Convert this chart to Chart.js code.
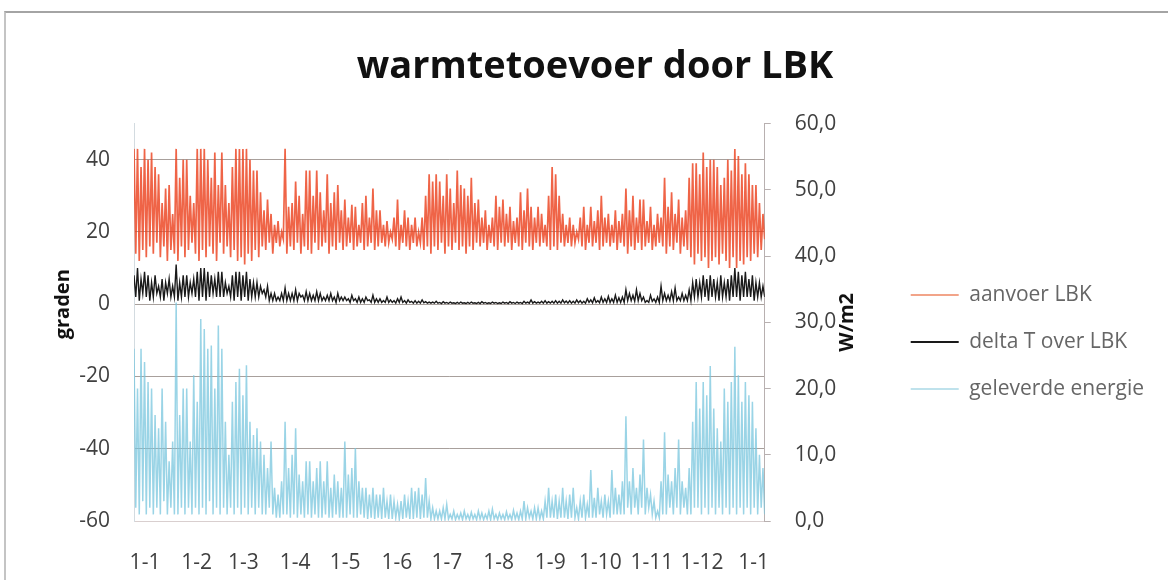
<!DOCTYPE html>
<html>
<head>
<meta charset="utf-8">
<script src="https://cdn.jsdelivr.net/npm/chart.js@4.4.1/dist/chart.umd.min.js"></script>
<style>
  html, body { margin: 0; padding: 0; background: #fff; }
  .wrap { position: relative; width: 1168px; height: 580px; overflow: hidden; }
  /* grijze rand van de uitsnede */
  .frame { position: absolute; left: 4px; top: 11px; right: 0; bottom: 0;
           border-top: 2px solid #a4a4a4; border-left: 2px solid #c4c4c4; pointer-events: none; }
  canvas { position: absolute; left: 0; top: 0; }
</style>
</head>
<body>
<div class="wrap">
  <canvas id="chart" width="1168" height="580"></canvas>
  <div class="frame"></div>
</div>
<script>
// titels en labels
const chartTitle = 'warmtetoevoer door LBK';
const leftTitle = 'graden';
const rightTitle = 'W/m2';
const seriesNames = ['aanvoer LBK', 'delta T over LBK', 'geleverde energie'];
const legendColors = ['#f2a489', '#1a1a1a', '#bfe2ec'];

// x-as: dag van het jaar, labels op de eerste van elke maand
const monthDays = [0, 31, 59, 90, 120, 151, 181, 212, 243, 273, 304, 334, 365];
const monthLabels = ['1-1', '1-2', '1-3', '1-4', '1-5', '1-6', '1-7', '1-8', '1-9', '1-10', '1-11', '1-12', '1-1'];
const dayStart = -6.6;
const dayEnd = 371.6;

// linker as (graden)
const leftTicks = [-60, -40, -20, 0, 20, 40];

// aanvoer LBK (graden), afwisselend pieken en dalen, ca. 10 dagen per regel
const aanvoer = [
  43,14, 43,12, 38,15, 43,13, 40,16,
  42,14, 38,17, 36,13, 28,16, 32,12,
  33,15, 25,14, 43,12, 35,16, 40,13,
  40,15, 30,17, 28,14, 43,12, 43,15,
  43,13, 40,16, 35,14, 42,12, 33,17,
  42,14, 33,16, 28,13, 38,15, 43,12,
  43,13, 43,11, 43,14, 40,12, 37,15,
  37,13, 31,16, 26,15, 29,17, 25,14,
  22,17, 23,16, 20,18, 43,14, 27,16,
  28,15, 34,17, 30,14, 25,16, 37,15,
  37,14, 30,17, 37,15, 31,16, 26,17,
  36,14, 28,16, 31,15, 33,17, 26,15,
  29,16, 24,17, 27.5,15, 27,16, 22,17,
  28,15, 30,16, 24,17, 32,15, 26,16,
  26,17, 22,16, 23,17, 20,18, 24,16,
  29,15, 22,17, 26,16, 24,15, 22,17,
  24,16, 20,17, 24,15, 30,16, 36,14,
  34,16, 36,15, 34,17, 30,14, 36,16,
  32,15, 28,17, 37,15, 33,16, 32,14,
  30,16, 35,15, 28,17, 29,16, 24,17,
  26,15, 22,17, 24,16, 30,15, 27,17,
  29,16, 25,17, 27,15, 23,17, 24,16,
  31,15, 26,17, 32,16, 27,15, 24,17,
  27,16, 25,17, 22,16, 30,15, 38,16,
  36,15, 30,17, 25,16, 22,17, 24,16,
  22,17, 20,18, 24,16, 27,15, 22,17,
  27,16, 23,17, 26,15, 30,16, 24,17,
  25,16, 22,17, 26,15, 23,17, 25,16,
  32,14, 26,16, 30,15, 24,17, 29,15,
  29,16, 23,17, 27,15, 22,16, 25,17,
  24,16, 35,14, 27,16, 31,15, 25,17,
  29,14, 24,16, 26,15, 35,13, 39,11,
  39,14, 36,12, 42,13, 38,10, 40,12,
  40,13, 38,11, 33,14, 35,12, 40,10,
  37,13, 43,10, 41,12, 36,11, 39,13,
  36,12, 33,14, 33,13, 28,15, 25,18
];

// delta T over LBK (graden)
const deltaT = [
  8,2, 10,1, 7,3, 9,2, 8,1,
  6,2, 8,3, 5,2, 7,1, 6,3,
  7,2, 5,2, 11,1, 6,2, 8,2,
  8,2, 6,3, 7,2, 9,1, 10,2,
  10,1, 9,2, 8,3, 7,2, 9,2,
  9,2, 6,3, 5,2, 8,1, 9,2,
  9,1, 8,2, 9,1, 7,2, 6,2,
  6,2, 5,3, 4,2, 5,1, 3,1,
  3,1, 2,1, 3,1, 4.5,1, 3,1,
  3,1, 4,1, 3,2, 2.5,1, 3.5,1,
  3,1, 2.5,1, 3.5,1, 3,1, 2,1,
  2.5,1, 3,1, 2,0.5, 3,1, 2,1,
  2,1, 1.5,0.5, 2.5,1, 1.5,0.5, 2,0.5,
  1.5,0.5, 2,1, 1.2,0.5, 2.5,0.5, 1.5,0.5,
  1.5,0.5, 1,0.5, 2,0.5, 1.2,0.5, 1,0.3,
  1.5,0.5, 2,0.5, 1,0.3, 1.2,0.5, 0.8,0.3,
  1,0.3, 0.8,0.3, 1.2,0.4, 0.7,0.3, 0.6,0.3,
  0.6,0.3, 0.8,0.3, 0.5,0.2, 0.7,0.3, 0.5,0.2,
  0.6,0.3, 0.4,0.2, 0.5,0.2, 0.6,0.3, 0.4,0.2,
  0.5,0.2, 0.6,0.3, 0.4,0.2, 0.5,0.2, 0.7,0.3,
  0.5,0.2, 0.4,0.2, 0.6,0.3, 0.5,0.2, 0.4,0.2,
  0.6,0.3, 0.5,0.2, 0.7,0.3, 0.5,0.2, 0.6,0.3,
  0.5,0.2, 0.8,0.3, 0.6,0.3, 1.2,0.3, 0.7,0.3,
  0.6,0.3, 0.8,0.3, 1,0.3, 0.7,0.3, 0.8,0.3,
  1,0.3, 0.8,0.3, 1.2,0.4, 0.9,0.3, 1,0.3,
  0.8,0.3, 1.2,0.4, 1,0.3, 0.8,0.3, 1.5,0.5,
  1.2,0.4, 1.8,0.5, 1,0.4, 2,0.5, 1.5,0.5,
  2.2,0.5, 1.5,0.5, 2.5,0.5, 1.8,0.5, 2,0.5,
  4,1, 3,1, 2.5,0.8, 4,1, 3,1,
  2,0.5, 1,0.5, 2.5,0.8, 1.5,0.5, 2,0.5,
  5,1, 3,1, 2.5,1, 3.5,1, 4.5,1,
  2,1, 3,1, 2.5,1, 4,1, 6,2,
  7,2, 6,2, 8,2, 7,1, 8,2,
  7,2, 6,1, 8,2, 6,2, 7,1,
  8,2, 10,2, 9,1, 8,2, 9,2,
  7,2, 8,1, 6,2, 6,2, 5,2
];

// geleverde energie (W/m2, rechter as)
const energie = [
  26,2, 20,1, 26,3, 24,1, 21,2,
  20,1, 16,2, 14,1, 20,3, 15,1,
  9,2, 12,1, 33,1, 16,2, 20,1,
  20,2, 12,1, 22,2, 18,1, 30.5,2,
  29,1, 26,3, 26.5,1, 20,2, 29.5,1,
  26,2, 15,1, 10,2, 18,1, 21,2,
  23,1, 19,2, 23.5,1, 15,2, 13,1,
  14,2, 12,1, 10,1, 8,2, 12,1,
  5,0.5, 4,0.5, 6,1, 15,1, 8,0.5,
  10,1, 14,0.5, 7,1, 6,0.5, 9,1,
  9,0.5, 6,1, 8,0.5, 9,0.5, 6,1,
  9,0.5, 5,0.5, 7,1, 6,0.5, 5,0.5,
  12,0.5, 7,1, 8,0.5, 11,0.5, 6,1,
  5,0.5, 5,0.3, 4,0.5, 5,0.3, 4,0.5,
  4,0.3, 5,0.5, 3,0.3, 4,0.3, 3,0.5,
  2.5,0.3, 3,0.3, 4,0.5, 3,0.3, 5,0.3,
  4.5,0.5, 5,0.3, 4,0.5, 6.5,0.5, 3,0.3,
  2,0.3, 1.5,0.3, 1.5,0.3, 2,0.3, 2.5,0.3,
  1,0.3, 1.5,0.2, 1,0.3, 1.2,0.2, 1.5,0.3,
  1,0.2, 1.3,0.3, 1,0.2, 1.5,0.3, 1.2,0.2,
  1,0.3, 1.5,0.2, 1.8,0.3, 1,0.2, 1.2,0.3,
  1,0.2, 1.4,0.3, 1,0.2, 1.6,0.3, 1.2,0.2,
  1.5,0.3, 3,0.3, 2,0.5, 1.5,0.3, 2,0.3,
  2,0.3, 1.5,0.3, 3,0.5, 5,0.5, 3,0.5,
  4,0.3, 3,0.5, 5,0.5, 3,0.3, 4,0.5,
  5,0.5, 2,0.3, 3,0.5, 4,0.5, 2.5,0.5,
  7.7,0.5, 3.5,0.5, 5,1, 3,0.5, 4,1,
  3,0.5, 7.7,1, 5,1, 4,1, 6,1,
  15.8,2, 6,1, 8,2, 5,1, 7,2,
  12.3,1, 5,2, 4,1, 3,0.5, 1.5,0.5,
  6,1, 13.4,1, 7,2, 6,1, 8,2,
  12.3,1, 6,2, 5,1, 8,1, 15,2,
  21,2, 17,1, 21,2, 19,1, 23.4,2,
  17,1, 14,2, 12,1, 20,2, 18,1,
  21,2, 26.3,1, 22,2, 18,1, 21,2,
  19,1, 18,2, 14,1, 10,2, 8,1
];

// punten gelijkmatig over de x-as verdelen
function toPoints(values) {
  const step = (dayEnd - dayStart) / (values.length - 1);
  return values.map((v, i) => ({ x: dayStart + i * step, y: v }));
}

const tickFont = { family: 'Open Sans', size: 21 };
const tickColor = '#404040';

// astitels onder -90 graden, zoals in Excel (ook rechts van onder naar boven)
const axisTitles = {
  id: 'axisTitles',
  afterDraw(chart) {
    const { ctx, scales } = chart;
    const items = [
      [leftTitle, scales.y.left + 27, scales.y.getPixelForValue(0)],
      [rightTitle, scales.y1.left + 83, scales.y1.getPixelForValue(30)]
    ];
    ctx.save();
    ctx.font = 'bold 20px "Open Sans"';
    ctx.fillStyle = '#111';
    ctx.textAlign = 'center';
    ctx.textBaseline = 'middle';
    items.forEach(([t, x, y]) => {
      ctx.save();
      ctx.translate(x, y);
      ctx.rotate(-Math.PI / 2);
      ctx.fillText(t, 0, 0);
      ctx.restore();
    });
    ctx.restore();
  }
};

new Chart(document.getElementById('chart'), {
  type: 'line',
  data: {
    datasets: [
      {
        label: seriesNames[0],
        data: toPoints(aanvoer),
        yAxisID: 'y',
        borderColor: 'rgba(236,66,30,0.82)',
        borderWidth: 1.7
      },
      {
        label: seriesNames[1],
        data: toPoints(deltaT),
        yAxisID: 'y',
        borderColor: '#1a1a1a',
        borderWidth: 1.4
      },
      {
        label: seriesNames[2],
        data: toPoints(energie),
        yAxisID: 'y1',
        borderColor: 'rgba(120,198,222,0.75)',
        borderWidth: 1.5
      }
    ]
  },
  options: {
    responsive: false,
    animation: false,
    elements: { point: { radius: 0 }, line: { tension: 0 } },
    layout: { padding: { left: 36, right: 14, top: 0, bottom: 0 } },
    plugins: {
      title: {
        display: true,
        text: chartTitle,
        color: '#111',
        font: { family: 'Open Sans', size: 38, weight: 'bold' },
        padding: { top: 44, bottom: 34 }
      },
      legend: {
        position: 'right',
        fullSize: false,
        maxWidth: 400,
        title: { display: true, text: ' ', font: { family: 'Open Sans', size: 21 }, padding: 7 },
        labels: {
          usePointStyle: true,
          pointStyle: 'line',
          pointStyleWidth: 48,
          padding: 26,
          color: '#3a3a3a',
          font: { family: 'Open Sans', size: 21 },
          generateLabels: chart => chart.data.datasets.map((ds, i) => ({
            text: ds.label,
            strokeStyle: legendColors[i],
            fillStyle: legendColors[i],
            lineWidth: 2,
            pointStyle: 'line',
            datasetIndex: i,
            hidden: false
          }))
        }
      },
      tooltip: { enabled: false }
    },
    scales: {
      x: {
        type: 'linear',
        min: dayStart,
        max: dayEnd,
        afterBuildTicks: axis => { axis.ticks = monthDays.map(v => ({ value: v })); },
        afterFit: axis => { axis.height = 59; },
        grid: { display: false },
        border: { display: true, color: '#d9cfcf' },
        ticks: {
          autoSkip: false,
          maxRotation: 0,
          padding: 21,
          color: tickColor,
          font: tickFont,
          callback: (v, i) => monthLabels[i]
        }
      },
      y: {
        position: 'left',
        min: -60,
        max: 50,
        afterBuildTicks: axis => { axis.ticks = leftTicks.map(v => ({ value: v })); },
        afterFit: axis => { axis.width = 98; },
        grid: { color: '#a8a09c', drawTicks: false },
        border: { display: true, color: '#d3dbe0' },
        ticks: { padding: 24, color: tickColor, font: tickFont }
      },
      y1: {
        position: 'right',
        min: 0,
        max: 60,
        afterFit: axis => { axis.width = 120; },
        grid: { drawOnChartArea: false, drawTicks: true, tickLength: 6, color: '#b8b0b0' },
        border: { display: true, color: '#b8b0b0' },
        ticks: {
          stepSize: 10,
          padding: 24,
          color: tickColor,
          font: tickFont,
          callback: v => v.toFixed(1).replace('.', ',')
        }
      }
    }
  },
  plugins: [axisTitles]
});
</script>
</body>
</html>
